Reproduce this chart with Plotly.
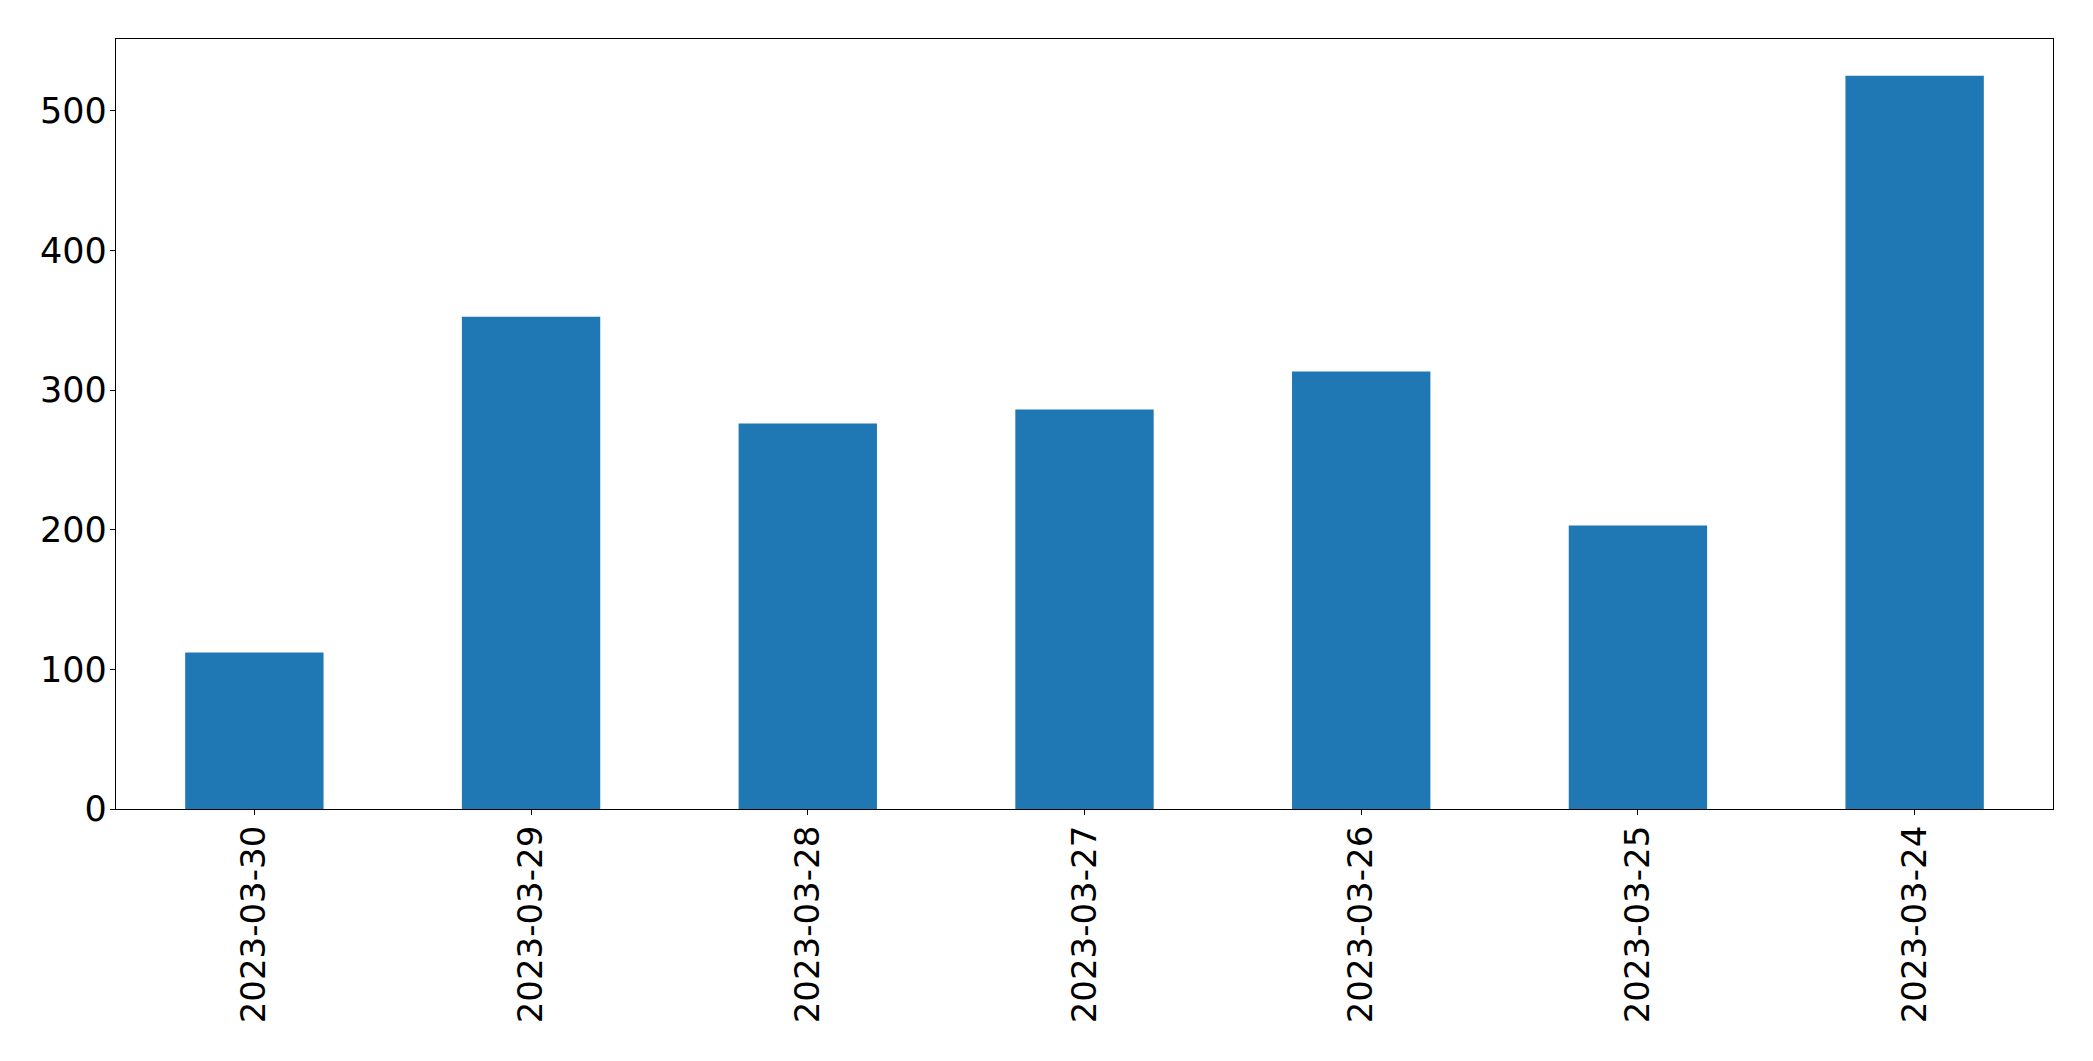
import plotly.graph_objects as go

dates = ["2023-03-30", "2023-03-29", "2023-03-28", "2023-03-27",
         "2023-03-26", "2023-03-25", "2023-03-24"]
values = [112, 352.5, 276, 286, 313.3, 203, 525.1]
y_ticks = [0, 100, 200, 300, 400, 500]

fig = go.Figure(go.Bar(x=dates, y=values, marker=dict(color="#1f77b4", line=dict(width=0))))

fig.update_layout(
    width=2085, height=1053,
    margin=dict(l=108, r=40, t=31, b=252, pad=0),
    paper_bgcolor="white", plot_bgcolor="white",
    bargap=0.5, showlegend=False,
    font=dict(family="DejaVu Sans", size=34, color="black"),
)
fig.update_xaxes(
    type="category", range=[-0.5, 6.5],
    showline=True, linecolor="black", linewidth=1.3, mirror=True,
    ticks="outside", ticklen=5, tickwidth=1.3, tickcolor="black",
    ticklabelstandoff=-3,
    tickangle=-90, showgrid=False, zeroline=False,
    tickfont=dict(size=34, color="black"),
)
fig.update_yaxes(
    range=[0, max(values) * 1.05],
    tickvals=y_ticks, ticktext=[str(v) for v in y_ticks],
    showline=True, linecolor="black", linewidth=1.3, mirror=True,
    ticks="outside", ticklen=5, tickwidth=1.3, tickcolor="black",
    ticklabelstandoff=-4,
    showgrid=False, zeroline=False,
    tickfont=dict(size=35, color="black"),
)

fig.write_html("out.html")
